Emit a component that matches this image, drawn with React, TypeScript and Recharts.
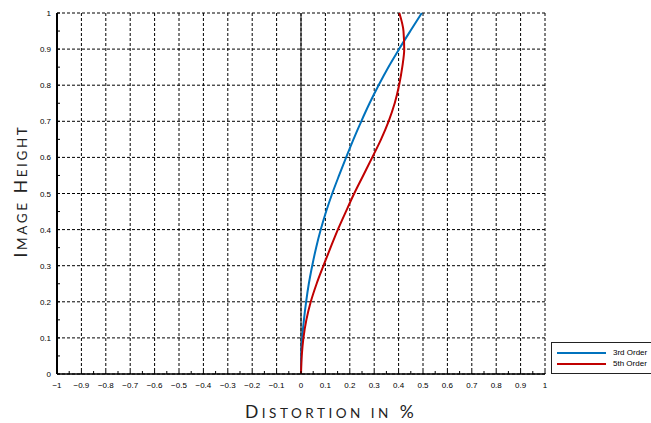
import React from "react";
import {
  CartesianGrid,
  Line,
  LineChart,
  ReferenceLine,
  XAxis,
  YAxis,
} from "recharts";

// image height (normalised) and distortion in % for both fits
const heights = [
  0, 0.05, 0.1, 0.15, 0.2, 0.25, 0.3, 0.35, 0.4, 0.45, 0.5, 0.55, 0.6, 0.65,
  0.7, 0.75, 0.8, 0.85, 0.9, 0.95, 1,
];
const thirdOrder = [
  0, 0.001, 0.005, 0.012, 0.021, 0.032, 0.046, 0.062, 0.081, 0.103, 0.128,
  0.156, 0.185, 0.215, 0.247, 0.281, 0.318, 0.358, 0.402, 0.448, 0.495,
];
const fifthOrder = [
  0, 0.003, 0.01, 0.022, 0.04, 0.064, 0.092, 0.121, 0.151, 0.184, 0.218,
  0.255, 0.292, 0.328, 0.359, 0.384, 0.402, 0.415, 0.423, 0.42, 0.403,
];

const xMajor = [
  -1, -0.9, -0.8, -0.7, -0.6, -0.5, -0.4, -0.3, -0.2, -0.1, 0, 0.1, 0.2, 0.3,
  0.4, 0.5, 0.6, 0.7, 0.8, 0.9, 1,
];
const yMajor = [0, 0.1, 0.2, 0.3, 0.4, 0.5, 0.6, 0.7, 0.8, 0.9, 1];

const seriesNames = ["3rd Order", "5th Order"];

const withMinor = (major: number[]) => {
  const out: number[] = [];
  major.forEach((v, i) => {
    out.push(v);
    if (i < major.length - 1) out.push(Math.round((v + major[i + 1]) * 50) / 100);
  });
  return out;
};

const xTicks = withMinor(xMajor);
const yTicks = withMinor(yMajor);

const data = heights.map((h, i) => ({
  h,
  third: thirdOrder[i],
  fifth: fifthOrder[i],
}));

const BLUE = "#0072bd";
const RED = "#c00000";
const TICK_FONT = "Liberation Sans, Arial, sans-serif";

const isMajor = (v: number) => Math.abs(v * 10 - Math.round(v * 10)) < 1e-6;
const fmt = (v: number) => {
  const s = String(Math.round(v * 10) / 10);
  return s.startsWith("-") ? "\u2212" + s.slice(1) : s;
};

const XTick = ({ x, y, payload }: any) => {
  const v = payload.value;
  return (
    <g>
      <line x1={x} x2={x} y1={y} y2={y - 3} stroke="#000" />
      {isMajor(v) && (
        <text x={x} y={y + 14} textAnchor="middle" fontSize={8} fontFamily={TICK_FONT} fill="#000">
          {fmt(v)}
        </text>
      )}
    </g>
  );
};

const YTick = ({ x, y, payload }: any) => {
  const v = payload.value;
  return (
    <g>
      <line x1={x} x2={x + 3} y1={y} y2={y} stroke="#000" />
      {isMajor(v) && (
        <text x={x - 6} y={y + 3} textAnchor="end" fontSize={8} fontFamily={TICK_FONT} fill="#000">
          {fmt(v)}
        </text>
      )}
    </g>
  );
};

const LegendBox = () => (
  <div
    style={{
      position: "absolute",
      left: 551,
      top: 342,
      width: 110,
      height: 30,
      border: "1px solid #222",
      background: "#fff",
      fontFamily: TICK_FONT,
      fontSize: 8,
    }}
  >
    {[BLUE, RED].map((color, i) => (
      <div key={color}>
        <div
          style={{
            position: "absolute",
            left: 5,
            top: 9 + i * 11,
            width: 49,
            height: 2,
            background: color,
          }}
        />
        <div style={{ position: "absolute", left: 61, top: 5 + i * 11 }}>
          {seriesNames[i]}
        </div>
      </div>
    ))}
  </div>
);

const titleStyle: React.CSSProperties = {
  position: "absolute",
  fontFamily: "Lato, 'Open Sans', sans-serif",
  fontWeight: 400,
  fontSize: 17.5,
  color: "#222",
  whiteSpace: "nowrap",
  lineHeight: 1,
  letterSpacing: 2.6,
};
const sc: React.CSSProperties = { fontSize: 13.5, textTransform: "uppercase" };

export default function App() {
  return (
    <div
      style={{
        position: "absolute",
        left: 0,
        top: 0,
        width: 651,
        height: 423,
        background: "#fff",
      }}
    >
      <LineChart
        width={651}
        height={423}
        data={data}
        layout="vertical"
        margin={{ top: 13, right: 106, bottom: 19, left: 27 }}
      >
        <CartesianGrid
          stroke="#000"
          strokeDasharray="3 2"
          verticalValues={xMajor}
          horizontalValues={yMajor}
        />
        <XAxis
          type="number"
          domain={[-1, 1]}
          ticks={xTicks}
          interval={0}
          height={30}
          tickSize={0}
          tickMargin={0}
          tickLine={false}
          tick={<XTick />}
          axisLine={{ stroke: "#000", strokeWidth: 1.5 }}
          allowDataOverflow
        />
        <YAxis
          type="number"
          dataKey="h"
          domain={[0, 1]}
          reversed
          ticks={yTicks}
          interval={0}
          width={30}
          tickSize={0}
          tickMargin={0}
          tickLine={false}
          tick={<YTick />}
          axisLine={{ stroke: "#000", strokeWidth: 2 }}
        />
        <ReferenceLine x={0} stroke="#000" strokeWidth={1} />
        <Line
          dataKey="third"
          name={seriesNames[0]}
          type="monotone"
          stroke={BLUE}
          strokeWidth={2}
          dot={false}
          isAnimationActive={false}
        />
        <Line
          dataKey="fifth"
          name={seriesNames[1]}
          type="monotone"
          stroke={RED}
          strokeWidth={2}
          dot={false}
          isAnimationActive={false}
        />
      </LineChart>
      <LegendBox />
      <div style={{ ...titleStyle, left: 245, top: 403, letterSpacing: 3.5 }}>
        D<span style={sc}>istortion in</span> %
      </div>
      <div
        style={{
          ...titleStyle,
          left: 21,
          top: 191,
          transform: "translate(-50%, -50%) rotate(-90deg)",
        }}
      >
        I<span style={sc}>mage</span> H<span style={sc}>eight</span>
      </div>
    </div>
  );
}
